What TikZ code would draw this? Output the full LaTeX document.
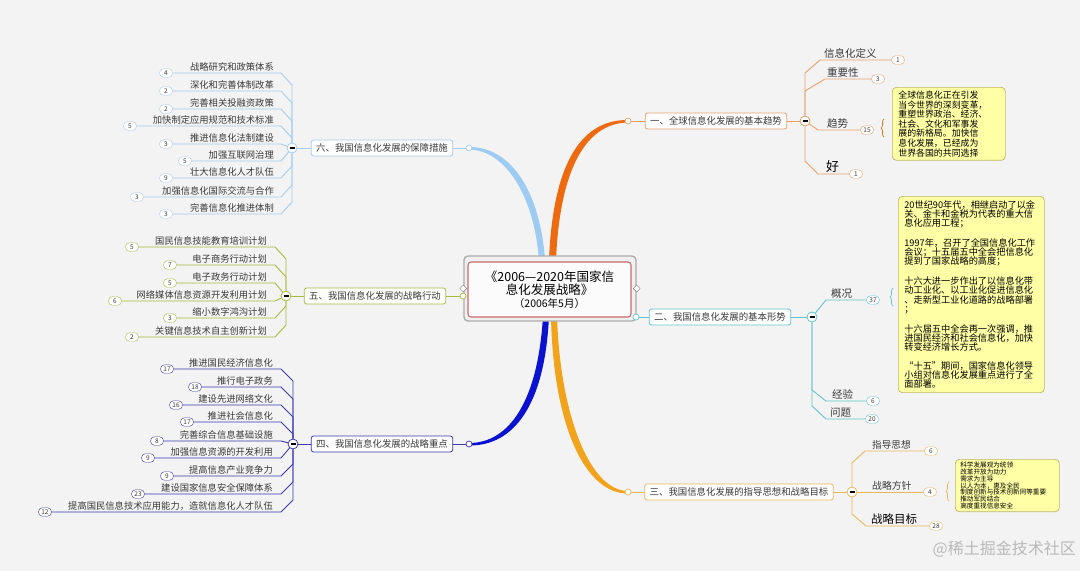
\documentclass[tikz,border=0pt]{standalone}
\usepackage{fontspec}
\setmainfont{Noto Sans CJK SC}
\usepackage{xcolor}
\usepackage{tikz}
\usetikzlibrary{decorations.pathreplacing,shapes.geometric}

\definecolor{bgc}{HTML}{F3F3F3}
\definecolor{orangeA}{HTML}{EE6A10}
\definecolor{orangeB}{HTML}{E8A06C}
\definecolor{skyA}{HTML}{9ECBF2}
\definecolor{skyB}{HTML}{A6CCEE}
\definecolor{oliveA}{HTML}{A9BA3C}
\definecolor{navyA}{HTML}{0A12D0}
\definecolor{navyB}{HTML}{3A3AAE}
\definecolor{tealA}{HTML}{62C4CC}
\definecolor{goldA}{HTML}{F2A31C}
\definecolor{goldB}{HTML}{E8B65E}
\definecolor{notefill}{HTML}{FFFFA6}
\definecolor{noteline}{HTML}{BDB66A}
\definecolor{txt}{HTML}{3A3A3A}

\begin{document}
\begin{tikzpicture}[x=1pt,y=-1pt,
  topic/.style={draw=#1, fill=white, rounded corners=2.5pt, text=txt, font=\fontsize{9.4}{11}\selectfont, inner xsep=5pt, inner ysep=0pt, minimum height=16pt, line width=0.8pt},
  knob/.style={circle, draw=#1, fill=white, inner sep=0pt, minimum size=6pt, line width=0.7pt},
  fold/.style={circle, draw=#1, fill=white, inner sep=0pt, minimum size=10pt, line width=0.8pt},
  leaf/.style={text=txt, font=\fontsize{9.3}{11}\selectfont, inner sep=1pt},
  tally/.style={draw=#1, fill=white, rounded corners=4pt, inner sep=0pt, minimum width=13pt, minimum height=8.5pt, font=\fontsize{6.5}{7}\selectfont, text=txt},
  twig/.style={draw=#1, line width=0.9pt},
  memo/.style={draw=noteline, fill=notefill, rounded corners=4pt, align=left, text=black, line width=0.7pt},
  notebrace/.style={decorate, decoration={brace, amplitude=3pt}, draw=#1, line width=0.7pt}
]
  % Background
  \fill[bgc] (0,0) rectangle (1080,571);
  \useasboundingbox (0,0) rectangle (1080,571);

  % Main branches (tapered, behind the centre)
  \fill[skyA] (545,260) .. controls (540,190) and (510,146.5) .. (469,147) -- (469,149.5) .. controls (505,150) and (534,195) .. (539,260) -- cycle;
  \fill[orangeA] (549,260) .. controls (553,160) and (583,119.5) .. (628,120) -- (628,122.5) .. controls (588,123) and (560,165) .. (556,260) -- cycle;
  \fill[navyA] (543,316) .. controls (538,400) and (510,443) .. (469,443) -- (469,445.5) .. controls (514,446) and (545,405) .. (549,316) -- cycle;
  \fill[goldA] (557,316) .. controls (560,415) and (590,491) .. (628,491) -- (628,493.5) .. controls (585,494) and (553,425) .. (551,316) -- cycle;

  % Centre
  \node[draw=gray!65, fill=gray!12, rounded corners=4pt, minimum width=172pt, minimum height=65pt, line width=1.4pt] (hubframe) at (550,288.5) {};
  \node[draw=red!45!gray!80, fill=white!97!gray, rounded corners=3pt, minimum width=163pt, minimum height=55pt, line width=1.1pt, align=center, text=black, font=\fontsize{12.5}{13}\selectfont] (hub) at (549.5,289.5) {《2006—2020年国家信\\息化发展战略》\\{\fontsize{10.5}{12}\selectfont （2006年5月）}};
  \node[diamond, draw=gray, fill=white, inner sep=0pt, minimum size=7pt] (dl) at (hubframe.west) {};
  \node[diamond, draw=gray, fill=white, inner sep=0pt, minimum size=7pt] (dr) at (hubframe.east) {};

  % Knobs, topics and folds
  \node[knob=orangeB] (c1) at (628,121) {};
  \node[knob=skyB] (c6) at (469,148) {};
  \node[knob=oliveA] (c5) at (463,296) {};
  \node[knob=navyB] (c4) at (469,444) {};
  \node[knob=tealA] (c2) at (636,317) {};
  \node[knob=goldB] (c3) at (628,492) {};
  \node[topic=orangeB] (b1) at (716,121) {一、全球信息化发展的基本趋势};
  \node[topic=skyB] (b6) at (382,148) {六、我国信息化发展的保障措施};
  \node[topic=oliveA] (b5) at (375,296) {五、我国信息化发展的战略行动};
  \node[topic=navyB] (b4) at (382,444) {四、我国信息化发展的战略重点};
  \node[topic=tealA] (b2) at (720,317) {二、我国信息化发展的基本形势};
  \node[topic=goldB] (b3) at (739,492) {三、我国信息化发展的指导思想和战略目标};
  \node[fold=orangeB] (m1) at (805,121) {\rule{5pt}{1.1pt}};
  \node[fold=skyB] (m6) at (292,148) {\rule{5pt}{1.1pt}};
  \node[fold=oliveA] (m5) at (286,296) {\rule{5pt}{1.1pt}};
  \node[fold=navyB] (m4) at (293,444) {\rule{5pt}{1.1pt}};
  \node[fold=tealA] (m2) at (812,317) {\rule{5pt}{1.1pt}};
  \node[fold=goldB] (m3) at (852,492) {\rule{5pt}{1.1pt}};
  \draw[twig=orangeB] (c1) -- (b1);
  \draw[twig=orangeB] (b1) -- (m1);
  \draw[twig=skyB] (c6) -- (b6);
  \draw[twig=skyB] (b6) -- (m6);
  \draw[twig=oliveA] (c5) -- (b5);
  \draw[twig=oliveA] (b5) -- (m5);
  \draw[twig=navyB] (c4) -- (b4);
  \draw[twig=navyB] (b4) -- (m4);
  \draw[twig=tealA] (c2) -- (b2);
  \draw[twig=tealA] (b2) -- (m2);
  \draw[twig=goldB] (c3) -- (b3);
  \draw[twig=goldB] (b3) -- (m3);

  % 一
  \node[leaf, font=\fontsize{10.5}{12}\selectfont, anchor=south west] (t11) at (823,59.5) {信息化定义};
  \node[tally=orangeB] (n11) at (898,60) {1};
  \draw[twig=orangeB] (m1) -- (805,73) -- (820,60) -- (n11);
  \node[leaf, font=\fontsize{10.5}{12}\selectfont, anchor=south west] (t12) at (826,78.5) {重要性};
  \node[tally=orangeB] (n12) at (878,79) {3};
  \draw[twig=orangeB] (m1) -- (805,91) -- (825,79) -- (n12);
  \node[leaf, font=\fontsize{10.5}{12}\selectfont, anchor=south west] (t13) at (826,129.5) {趋势};
  \node[tally=orangeB] (n13) at (867,130) {15};
  \draw[twig=orangeB] (m1) -- (818,130) -- (n13);
  \node[leaf, font=\fontsize{13}{14}\selectfont, text=black, anchor=south west] (t14) at (825,173.5) {好};
  \node[tally=orangeB] (n14) at (856,174) {1};
  \draw[twig=orangeB] (m1) -- (805,161) -- (818,174) -- (n14);
  \draw[notebrace=orangeA] (884,137) -- (884,119);
  \node[memo, text width=101pt, inner xsep=6pt, inner ysep=3.5pt, font=\fontsize{8.9}{9.6}\selectfont, anchor=north west] (memo1) at (892,87) {全球信息化正在引发\\当今世界的深刻变革，\\重塑世界政治、经济、\\社会、文化和军事发\\展的新格局。加快信\\息化发展，已经成为\\世界各国的共同选择};

  % 二
  \node[leaf, font=\fontsize{10.5}{12}\selectfont, anchor=south west] (t21) at (830,299.5) {概况};
  \node[tally=tealA] (n21) at (873,300) {37};
  \draw[twig=tealA] (m2) -- (826,300) -- (n21);
  \node[leaf, font=\fontsize{10.5}{12}\selectfont, anchor=south west] (t22) at (831,400.5) {经验};
  \node[tally=tealA] (n22) at (873,401) {6};
  \draw[twig=tealA] (m2) -- (812,390) -- (826,401) -- (n22);
  \node[leaf, font=\fontsize{10.5}{12}\selectfont, anchor=south west] (t23) at (829,418.5) {问题};
  \node[tally=tealA] (n23) at (872,419) {20};
  \draw[twig=tealA] (m2) -- (812,406) -- (826,419) -- (n23);
  \draw[notebrace=tealA] (893,306) -- (893,288);
  \node[memo, text width=134pt, inner xsep=6pt, inner ysep=4pt, font=\fontsize{9.2}{9.3}\selectfont, anchor=north west] (memo2) at (898,196) {20世纪90年代，相继启动了以金\\关、金卡和金税为代表的重大信\\息化应用工程；\\[9.3pt]1997年，召开了全国信息化工作\\会议；十五届五中全会把信息化\\提到了国家战略的高度；\\[9.3pt]十六大进一步作出了以信息化带\\动工业化、以工业化促进信息化\\、走新型工业化道路的战略部署\\；\\[9.3pt]十六届五中全会再一次强调，推\\进国民经济和社会信息化，加快\\转变经济增长方式。\\[9.3pt]“十五”期间，国家信息化领导\\小组对信息化发展重点进行了全\\面部署。};

  % 三
  \node[leaf, font=\fontsize{9.6}{11}\selectfont, anchor=south west] (t31) at (871,450.5) {指导思想};
  \node[tally=goldB] (n31) at (931,451) {6};
  \draw[twig=goldB] (m3) -- (852,463) -- (865,451) -- (n31);
  \node[leaf, font=\fontsize{9.8}{11}\selectfont, anchor=south west] (t32) at (871,491.5) {战略方针};
  \node[tally=goldB] (n32) at (930,492) {4};
  \draw[twig=goldB] (m3) -- (n32);
  \node[leaf, font=\fontsize{11.5}{13}\selectfont, text=black, anchor=south west] (t33) at (870,525.5) {战略目标};
  \node[tally=goldB] (n33) at (936,526) {28};
  \draw[twig=goldB] (m3) -- (852,514) -- (866,526) -- (n33);
  \draw[notebrace=goldB] (949,501) -- (949,482);
  \node[memo, text width=94pt, inner xsep=5pt, inner ysep=3pt, font=\fontsize{6.6}{6.7}\selectfont, anchor=north west] (memo3) at (955,459) {科学发展观为统领\\改革开放为动力\\需求为主导\\以人为本，惠及全民\\制度创新与技术创新同等重要\\推动军民结合\\高度重视信息安全};

  % 六
  \node[leaf, anchor=south east] (t61) at (275,72.5) {战略研究和政策体系};
  \node[tally=skyB] (n61) at (166,73) {4};
  \draw[twig=skyB] (m6) -- (292,85) -- (281,73) -- (n61);
  \node[leaf, anchor=south east] (t62) at (275,90.5) {深化和完善体制改革};
  \node[tally=skyB] (n62) at (166,91) {2};
  \draw[twig=skyB] (m6) -- (292,103) -- (281,91) -- (n62);
  \node[leaf, anchor=south east] (t63) at (275,108.5) {完善相关投融资政策};
  \node[tally=skyB] (n63) at (166,109) {2};
  \draw[twig=skyB] (m6) -- (292,121) -- (281,109) -- (n63);
  \node[leaf, anchor=south east] (t64) at (275,125.5) {加快制定应用规范和技术标准};
  \node[tally=skyB] (n64) at (130,126) {5};
  \draw[twig=skyB] (m6) -- (292,138) -- (281,126) -- (n64);
  \node[leaf, anchor=south east] (t65) at (275,143.5) {推进信息化法制建设};
  \node[tally=skyB] (n65) at (166,144) {3};
  \draw[twig=skyB] (m6) -- (281,144) -- (n65);
  \node[leaf, anchor=south east] (t66) at (275,160.5) {加强互联网治理};
  \node[tally=skyB] (n66) at (185,161) {5};
  \draw[twig=skyB] (m6) -- (281,161) -- (n66);
  \node[leaf, anchor=south east] (t67) at (275,177.5) {壮大信息化人才队伍};
  \node[tally=skyB] (n67) at (166,178) {9};
  \draw[twig=skyB] (m6) -- (292,166) -- (281,178) -- (n67);
  \node[leaf, anchor=south east] (t68) at (275,196.5) {加强信息化国际交流与合作};
  \node[tally=skyB] (n68) at (137,197) {3};
  \draw[twig=skyB] (m6) -- (292,185) -- (281,197) -- (n68);
  \node[leaf, anchor=south east] (t69) at (275,213.5) {完善信息化推进体制};
  \node[tally=skyB] (n69) at (166,214) {3};
  \draw[twig=skyB] (m6) -- (292,202) -- (281,214) -- (n69);

  % 五
  \node[leaf, anchor=south east] (t51) at (268,246.5) {国民信息技能教育培训计划};
  \node[tally=oliveA] (n51) at (132,247) {5};
  \draw[twig=oliveA] (m5) -- (286,259) -- (275,247) -- (n51);
  \node[leaf, anchor=south east] (t52) at (268,264.5) {电子商务行动计划};
  \node[tally=oliveA] (n52) at (170,265) {7};
  \draw[twig=oliveA] (m5) -- (286,277) -- (275,265) -- (n52);
  \node[leaf, anchor=south east] (t53) at (268,282.5) {电子政务行动计划};
  \node[tally=oliveA] (n53) at (170,283) {5};
  \draw[twig=oliveA] (m5) -- (275,283) -- (n53);
  \node[leaf, anchor=south east] (t54) at (268,300.5) {网络媒体信息资源开发利用计划};
  \node[tally=oliveA] (n54) at (115,301) {6};
  \draw[twig=oliveA] (m5) -- (275,301) -- (n54);
  \node[leaf, anchor=south east] (t55) at (268,317.5) {缩小数字鸿沟计划};
  \node[tally=oliveA] (n55) at (170,318) {3};
  \draw[twig=oliveA] (m5) -- (286,306) -- (275,318) -- (n55);
  \node[leaf, anchor=south east] (t56) at (268,336.5) {关键信息技术自主创新计划};
  \node[tally=oliveA] (n56) at (132,337) {2};
  \draw[twig=oliveA] (m5) -- (286,325) -- (275,337) -- (n56);

  % 四
  \node[leaf, anchor=south east] (t41) at (274,368.5) {推进国民经济信息化};
  \node[tally=navyB] (n41) at (167,369) {17};
  \draw[twig=navyB] (m4) -- (293,381) -- (281,369) -- (n41);
  \node[leaf, anchor=south east] (t42) at (274,386.5) {推行电子政务};
  \node[tally=navyB] (n42) at (195,387) {18};
  \draw[twig=navyB] (m4) -- (293,399) -- (281,387) -- (n42);
  \node[leaf, anchor=south east] (t43) at (274,404.5) {建设先进网络文化};
  \node[tally=navyB] (n43) at (176,405) {16};
  \draw[twig=navyB] (m4) -- (293,417) -- (281,405) -- (n43);
  \node[leaf, anchor=south east] (t44) at (274,421.5) {推进社会信息化};
  \node[tally=navyB] (n44) at (187,422) {17};
  \draw[twig=navyB] (m4) -- (293,434) -- (281,422) -- (n44);
  \node[leaf, anchor=south east] (t45) at (274,440.5) {完善综合信息基础设施};
  \node[tally=navyB] (n45) at (157,441) {8};
  \draw[twig=navyB] (m4) -- (281,441) -- (n45);
  \node[leaf, anchor=south east] (t46) at (274,457.5) {加强信息资源的开发利用};
  \node[tally=navyB] (n46) at (148,458) {9};
  \draw[twig=navyB] (m4) -- (281,458) -- (n46);
  \node[leaf, anchor=south east] (t47) at (274,475.5) {提高信息产业竞争力};
  \node[tally=navyB] (n47) at (167,476) {9};
  \draw[twig=navyB] (m4) -- (293,464) -- (281,476) -- (n47);
  \node[leaf, anchor=south east] (t48) at (274,493.5) {建设国家信息安全保障体系};
  \node[tally=navyB] (n48) at (138,494) {23};
  \draw[twig=navyB] (m4) -- (293,482) -- (281,494) -- (n48);
  \node[leaf, anchor=south east] (t49) at (274,511.5) {提高国民信息技术应用能力，造就信息化人才队伍};
  \node[tally=navyB] (n49) at (45,512) {12};
  \draw[twig=navyB] (m4) -- (293,500) -- (281,512) -- (n49);

  % Watermark
  \node[text=gray!55, font=\fontsize{16}{18}\selectfont, anchor=east, inner sep=0pt] (mark) at (1076,549) {@稀土掘金技术社区};
\end{tikzpicture}
\end{document}
